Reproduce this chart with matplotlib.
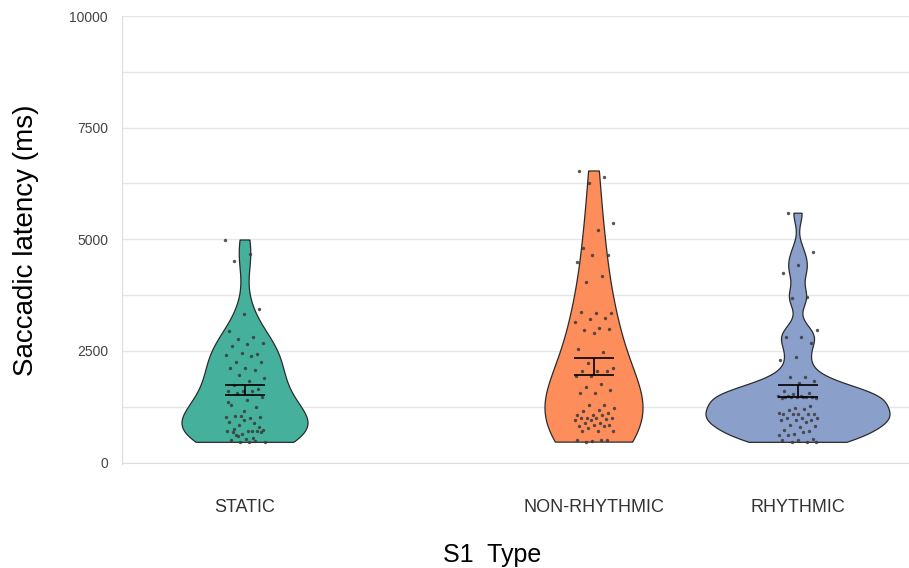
import numpy as np
import matplotlib
matplotlib.use("Agg")
import matplotlib.pyplot as plt

plt.rcParams['font.family'] = ['Liberation Sans', 'DejaVu Sans']

categories = ["STATIC", "NON-RHYTHMIC", "RHYTHMIC"]
colors = ["#45b19c", "#fd8d5b", "#8b9fcb"]

static_vals = [4985, 4670, 4510, 3430, 3335, 2940, 2820, 2770, 2680, 2660, 2620, 2440,
               2450, 2400, 2380, 2250, 2250, 2120, 2130, 2080, 1970, 1900, 1830, 1740,
               1640, 1600, 1600, 1600, 1550, 1480, 1410, 1300, 1245, 1050, 1030, 1000,
               1050, 1030, 950, 900, 880, 840, 730, 700, 690, 700, 650, 700, 700, 620,
               680, 520, 500, 480, 470, 460, 455, 760, 800, 1150, 1350, 560, 600]
nonrhythmic_vals = [6530, 6400, 6265, 5360, 5210, 4805, 4655, 4655, 4500, 4170, 4050,
                    3355, 3340, 3370, 3245, 3215, 3140, 3020, 2960, 2985, 2900, 2555,
                    2480, 2235, 2130, 2060, 2060, 2060, 1950, 1950, 1755, 1700, 1620,
                    1570, 1570, 1280, 1280, 1230, 1190, 1160, 1120, 1060, 1060, 1060,
                    1000, 1000, 1000, 1010, 980, 950, 950, 880, 880, 840, 840, 810, 810,
                    770, 700, 700, 700, 500, 490, 500, 510, 460]
rhythmic_vals = [5585, 4715, 4425, 4245, 3705, 3690, 2960, 2820, 2815, 2685, 2360, 2300,
                 1920, 1910, 1825, 1780, 1615, 1560, 1540, 1500, 1460, 1490, 1480, 1470,
                 1450, 1460, 1470, 1440, 1500, 1480, 1265, 1230, 1120, 1200, 1170, 1090,
                 1085, 1080, 1080, 1080, 1010, 1010, 1000, 950, 950, 960, 900, 850, 830,
                 800, 730, 700, 650, 610, 680, 610, 540, 510, 500, 460, 455, 455]
series = [static_vals, nonrhythmic_vals, rhythmic_vals]

# mean +/- SE bars
err_low = [1518, 1964, 1466]
err_high = [1748, 2350, 1741]

yticks = [0, 2500, 5000, 7500, 10000]
ytick_labels = ["0", "2500", "5000", "7500", "10000"]

# layout (x in pixel-like units)
positions = [245, 594, 798]
half_widths = [63, 49, 92]
bw_adjust = [1.1, 1.45, 1.0]
jitter_w = 20
bar_w = 20


def kde_nrd0(data, grid, adjust=1.0):
    d = np.asarray(data, float)
    n = len(d)
    sd = d.std(ddof=1)
    iqr = np.subtract(*np.percentile(d, [75, 25]))
    bw = 0.9 * min(sd, iqr / 1.34) * n ** (-0.2) * adjust
    z = (grid[:, None] - d[None, :]) / bw
    return np.exp(-0.5 * z ** 2).sum(axis=1) / (n * bw * np.sqrt(2 * np.pi))


fig = plt.figure(figsize=(9.09, 5.68), dpi=100)
ax = fig.add_axes([122 / 909, 1 - 464 / 568, 1 - 122 / 909, (464 - 16) / 568])

for i, (vals, pos, hw, col) in enumerate(zip(series, positions, half_widths, colors)):
    v = np.asarray(vals, float)
    grid = np.linspace(v.min(), v.max(), 512)
    dens = kde_nrd0(v, grid, bw_adjust[i])
    w = dens / dens.max() * hw
    xs = np.concatenate([pos - w, (pos + w)[::-1], [pos - w[0]]])
    ys = np.concatenate([grid, grid[::-1], [grid[0]]])
    ax.fill(xs, ys, facecolor=col, edgecolor="#2b2b2b", linewidth=0.9, zorder=2)
    k = np.arange(len(v))
    offs = ((k * 0.6180339887 + 0.13 * i) % 1.0 - 0.5) * 2 * jitter_w
    ax.scatter(pos + offs, v, s=6, color="#3a3a3a", alpha=0.85, linewidths=0, zorder=3)
    ax.hlines([err_low[i], err_high[i]], pos - bar_w, pos + bar_w, color="black",
              linewidth=1.2, zorder=4)
    ax.vlines(pos, err_low[i], err_high[i], color="black", linewidth=1.2, zorder=4)

ax.set_xlim(122, 909)
ax.set_ylim(-30, 10000)
ax.set_yticks(yticks)
ax.set_yticklabels(ytick_labels)
ax.set_yticks(np.arange(1250, 10000, 2500), minor=True)
ax.tick_params(axis="y", which="both", length=0, pad=10, labelsize=10,
               labelcolor="#444444")
ax.grid(axis="y", which="both", color="#e6e6e6", linewidth=1.0, zorder=0)
ax.set_axisbelow(True)
ax.set_xticks(positions)
ax.set_xticklabels(categories)
ax.tick_params(axis="x", length=0, pad=26, labelsize=13, labelcolor="#333333")
for s in ["top", "right"]:
    ax.spines[s].set_visible(False)
ax.spines["left"].set_color("#dddddd")
ax.spines["bottom"].set_color("#dddddd")
ax.spines["bottom"].set_position(("data", 0))

ax.set_ylabel("Saccadic latency (ms)", fontsize=20, labelpad=22)
fig.text(492 / 909, 1 - 555 / 568, "S1  Type", fontsize=18, ha="center", va="center")

fig.savefig("out.png", dpi=100)
